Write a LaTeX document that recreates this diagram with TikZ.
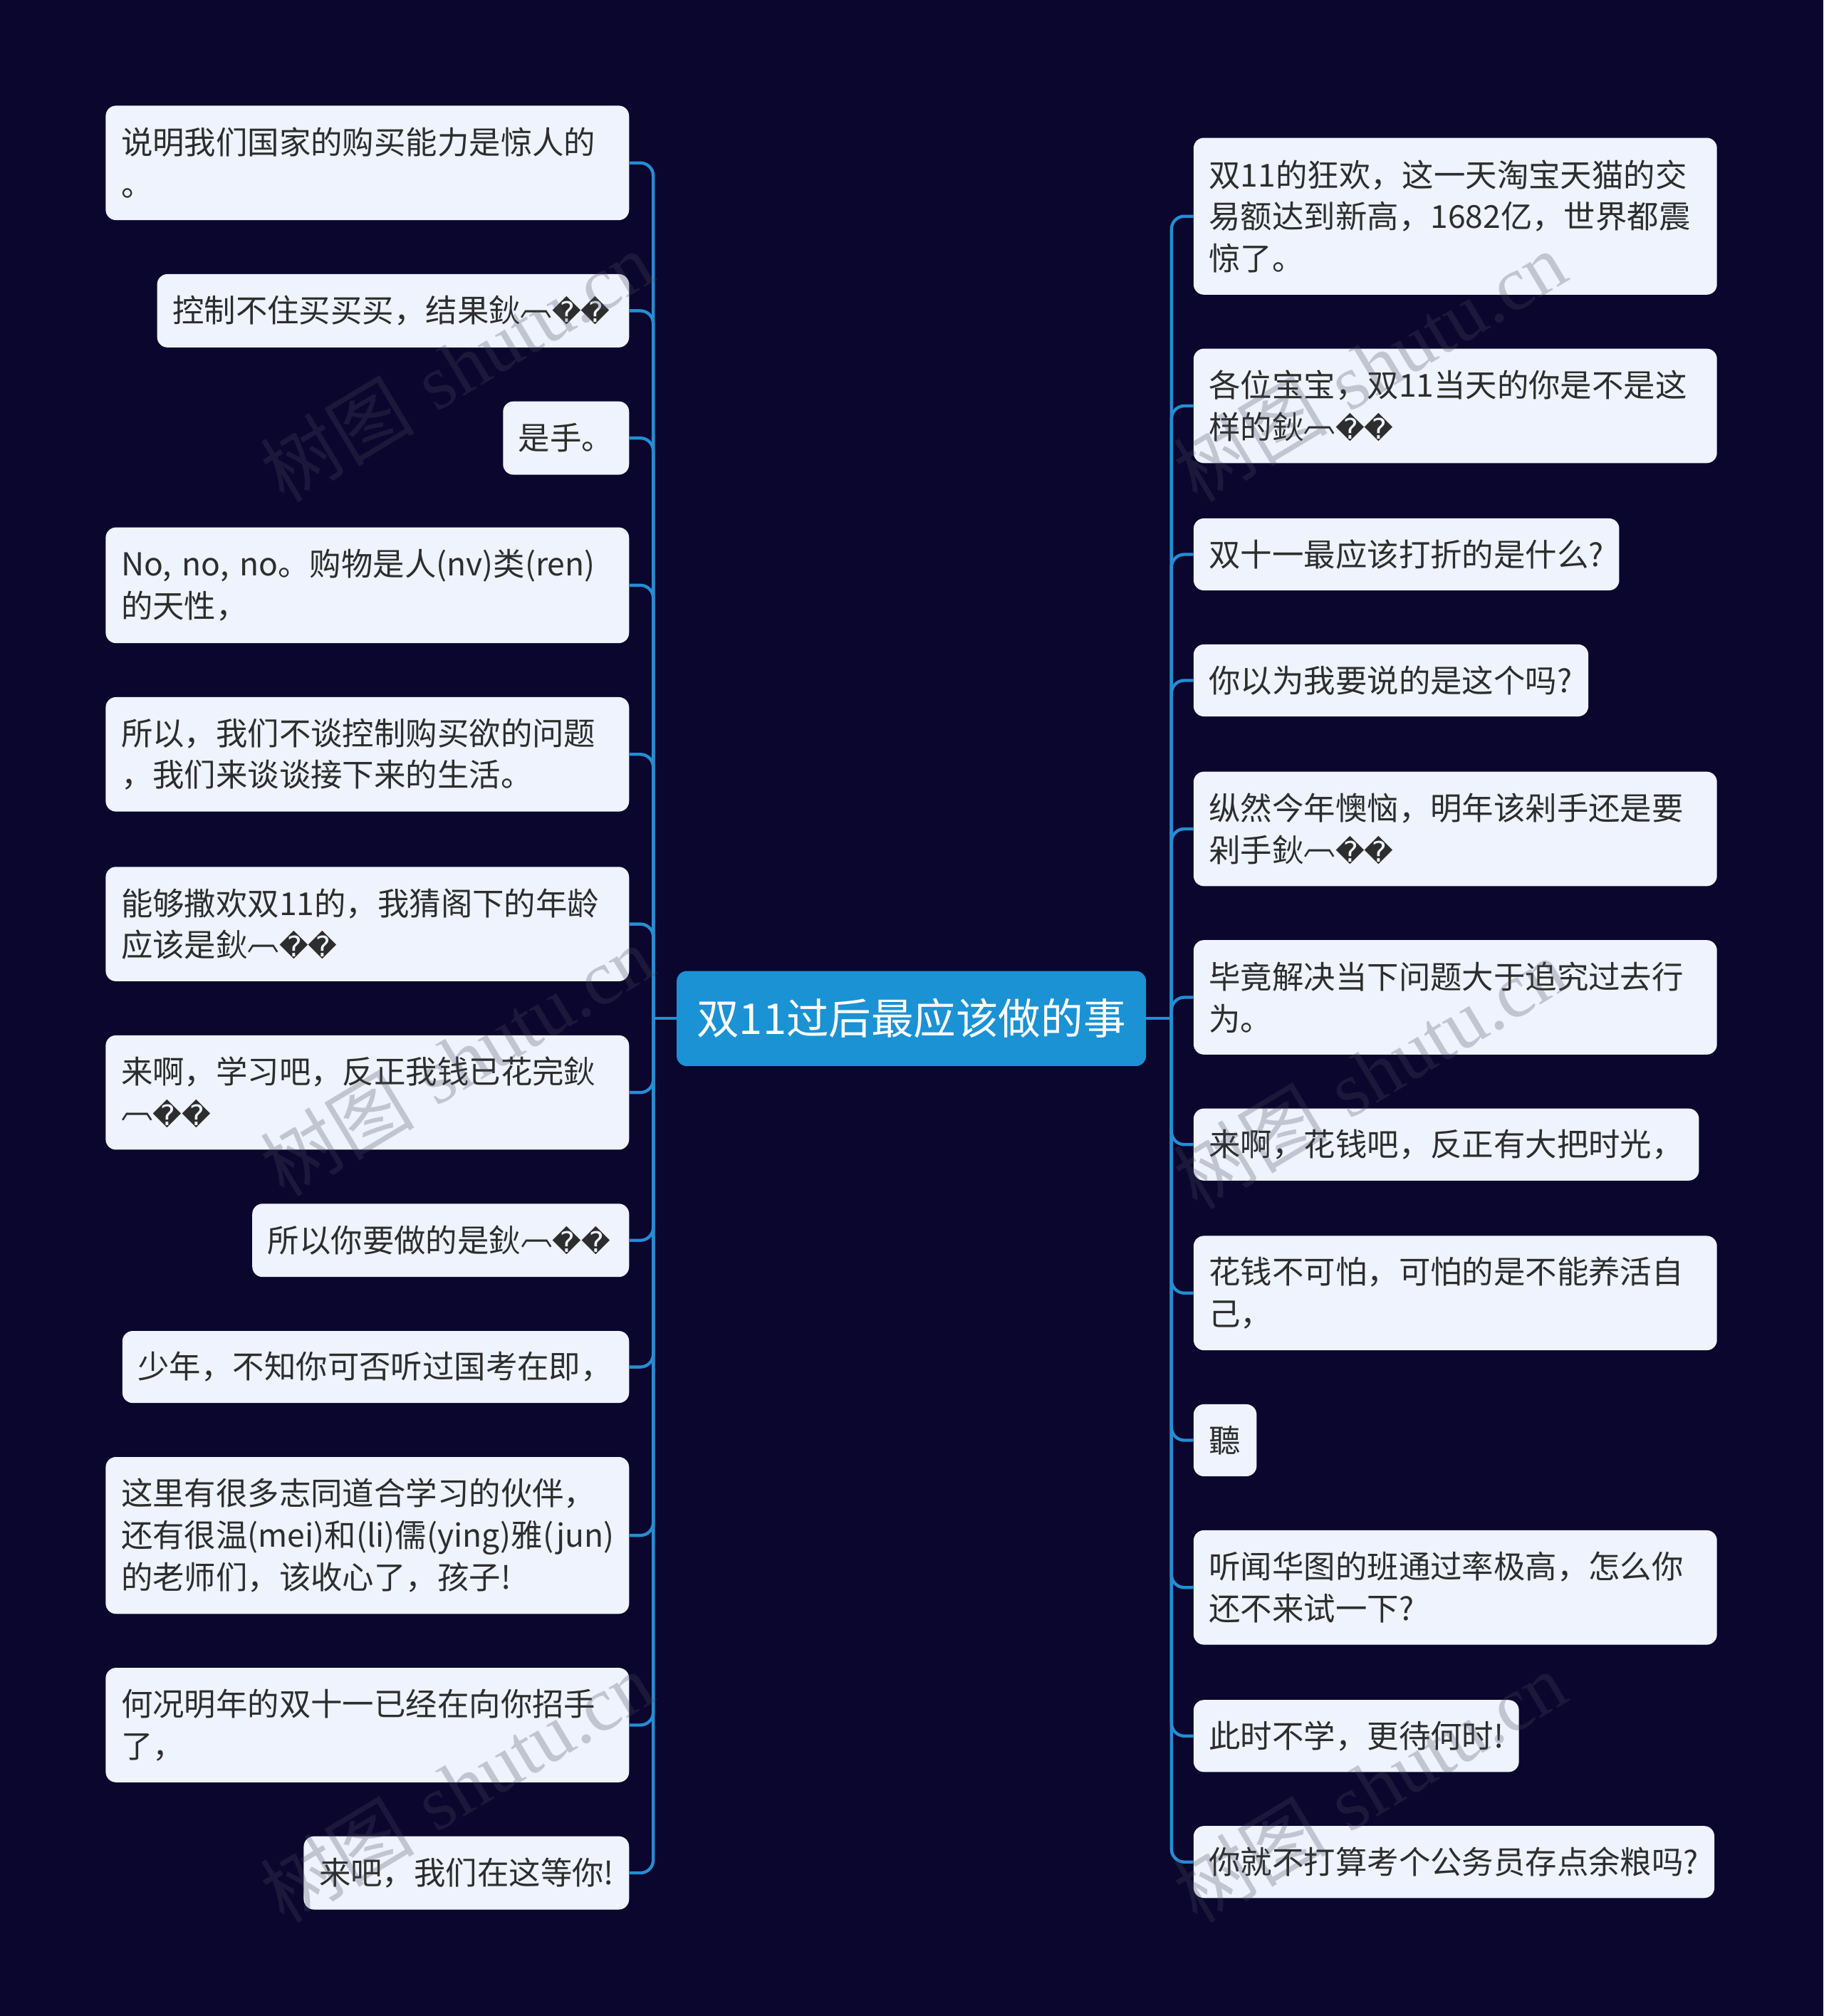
\documentclass[tikz,border=0pt]{standalone}
\usepackage{fontspec}
\newfontfamily\cjk{Noto Sans CJK SC}
\newfontfamily\dejavu{DejaVu Sans}
\newfontfamily\wmserif{Liberation Serif}
\usetikzlibrary{calc}
\definecolor{bgc}{RGB}{10,6,46}
\definecolor{leaffill}{RGB}{238,243,253}
\definecolor{leaftext}{RGB}{45,45,45}
\definecolor{connc}{RGB}{35,142,212}
\definecolor{centerfill}{RGB}{27,146,212}
\definecolor{wmc}{RGB}{76,76,92}
\newcommand\arcch{\raisebox{0.22em}{︹}}
\newcommand\repch{{\dejavu\fontsize{22}{32.5}\selectfont\char"FFFD\char"FFFD}}
\newcommand\moj{鈥\arcch\repch}
\tikzset{
  leaf/.style={fill=leaffill, rounded corners=8pt, text=leaftext, align=left,
    font=\cjk\fontsize{24.6}{32.5}\selectfont, inner xsep=12pt, inner ysep=0pt, anchor=north west},
  hub/.style={fill=centerfill, rounded corners=8pt, text=white, align=center,
    font=\cjk\fontsize{33}{38}\selectfont, inner sep=0pt, anchor=north west},
  conn/.style={draw=connc, line width=2.4pt, rounded corners=10pt},
  wm/.style={text=wmc, text opacity=0.27, rotate=31, font=\fontsize{60}{60}\selectfont}
}
\newcommand\leafnode[6]{%
  \pgfmathsetlengthmacro\lw{(#4-#2)*1pt}%
  \pgfmathsetlengthmacro\lh{(#5-#3)*1pt}%
  \pgfmathsetlengthmacro\tw{(#4-#2-24)*1pt}%
  \node[leaf, minimum width=\lw, minimum height=\lh, text width=\tw] (#1) at (#2,-#3) {#6};}
\begin{document}
\begin{tikzpicture}[x=1pt,y=1pt]
\fill[bgc] (0,0) rectangle (1418,-1568);
\useasboundingbox (0,0) rectangle (1418,-1568);

% center
\node[hub, minimum width=365pt, minimum height=74pt] (C) at (526,-755) {双11过后最应该做的事};

% left
\leafnode{L1}{82}{82}{489}{171}{说明我们国家的购买能力是惊人的\\。}
\leafnode{L2}{122}{213}{489}{270}{控制不住买买买，结果\moj}
\leafnode{L3}{391}{312}{489}{369}{是手。}
\leafnode{L4}{82}{410}{489}{500}{No,~no,~no。购物是人(nv)类(ren)\\的天性，}
\leafnode{L5}{82}{542}{489}{631}{所以，我们不谈控制购买欲的问题\\，我们来谈谈接下来的生活。}
\leafnode{L6}{82}{674}{489}{763}{能够撒欢双11的，我猜阁下的年龄\\应该是\moj}
\leafnode{L7}{82}{805}{489}{894}{来啊，学习吧，反正我钱已花完鈥\\\arcch\repch}
\leafnode{L8}{196}{936}{489}{993}{所以你要做的是\moj}
\leafnode{L9}{95}{1035}{489}{1091}{少年，不知你可否听过国考在即，}
\leafnode{L10}{82}{1133}{489}{1255}{这里有很多志同道合学习的伙伴，\\还有很温(mei)和(li)儒(ying)雅(jun)\\的老师们，该收心了，孩子!}
\leafnode{L11}{82}{1297}{489}{1386}{何况明年的双十一已经在向你招手\\了，}
\leafnode{L12}{236}{1428}{489}{1485}{来吧，我们在这等你!}

% right
\leafnode{R1}{928}{107}{1335}{229}{双11的狂欢，这一天淘宝天猫的交\\易额达到新高，1682亿，世界都震\\惊了。}
\leafnode{R2}{928}{271}{1335}{360}{各位宝宝，双11当天的你是不是这\\样的\moj}
\leafnode{R3}{928}{403}{1259}{459}{双十一最应该打折的是什么?}
\leafnode{R4}{928}{501}{1235}{557}{你以为我要说的是这个吗?}
\leafnode{R5}{928}{600}{1335}{689}{纵然今年懊恼，明年该剁手还是要\\剁手\moj}
\leafnode{R6}{928}{731}{1335}{820}{毕竟解决当下问题大于追究过去行\\为。}
\leafnode{R7}{928}{862}{1321}{918}{来啊，花钱吧，反正有大把时光，}
\leafnode{R8}{928}{961}{1335}{1050}{花钱不可怕，可怕的是不能养活自\\己，}
\leafnode{R9}{928}{1092}{977}{1148}{聽}
\leafnode{R10}{928}{1190}{1335}{1279}{听闻华图的班通过率极高，怎么你\\还不来试一下?}
\leafnode{R11}{928}{1322}{1181}{1378}{此时不学，更待何时!}
\leafnode{R12}{928}{1420}{1333}{1476}{你就不打算考个公务员存点余粮吗?}

% connectors
\coordinate (TL) at (508,-792);
\coordinate (TR) at (911,-792);
\draw[conn] (C.west) -- (C.west -| TL);
\draw[conn] (C.east) -- (C.east -| TR);
\foreach \n in {L1,L2,L3,L4,L5,L6,L7,L8,L9,L10,L11,L12}{
  \draw[conn] (C.west -| TL) |- (\n.east);
}
\foreach \n in {R1,R2,R3,R4,R5,R6,R7,R8,R9,R10,R11,R12}{
  \draw[conn] (C.east -| TR) |- (\n.west);
}

% watermarks
\foreach \wx/\wy [count=\i] in {355/285,355/825,355/1390,1065/285,1065/835,1065/1390}{
  \node[wm] (W\i) at (\wx,-\wy) {{\cjk 树图} {\wmserif shutu.cn}};
}
\end{tikzpicture}
\end{document}
